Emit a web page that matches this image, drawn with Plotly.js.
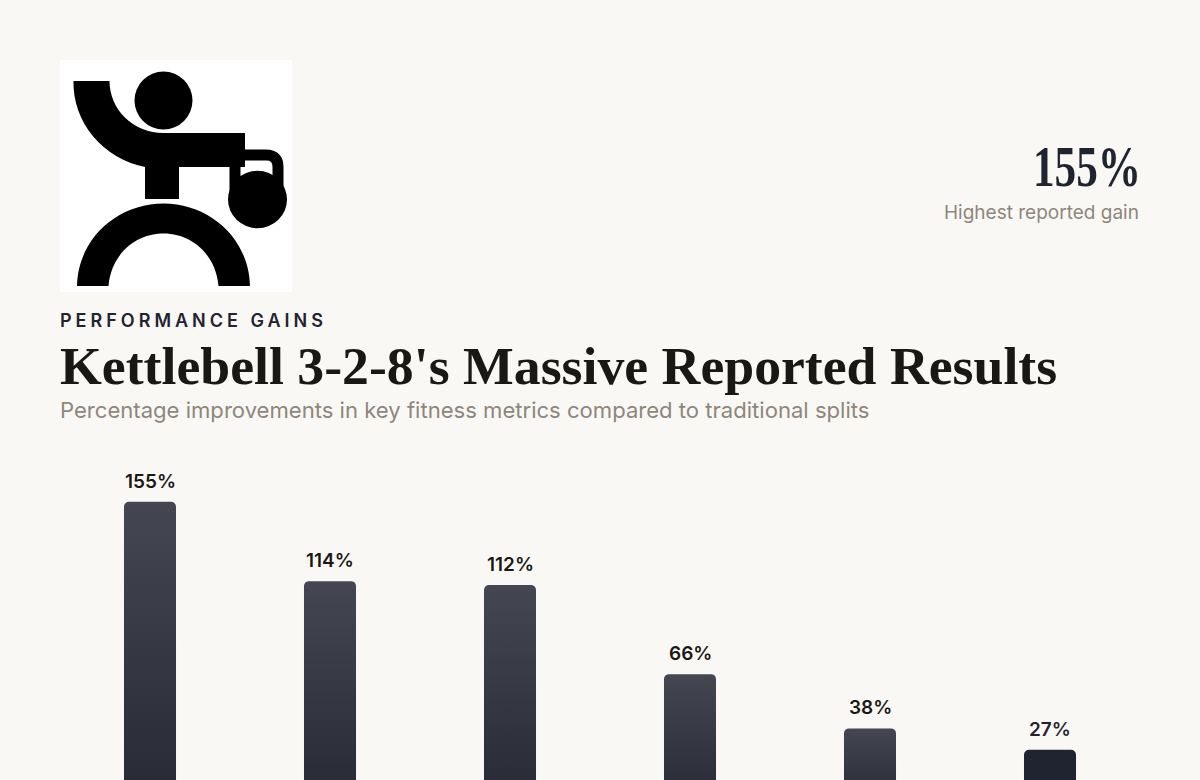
<!DOCTYPE html>
<html><head><meta charset="utf-8">
<script src="https://cdn.plot.ly/plotly-3.0.1.min.js"></script>
<style>html,body{margin:0;padding:0;background:#FAF8F5;overflow:hidden;height:780px}#chart{width:1200px;height:860px}</style>
</head><body><div id="chart"></div>
<script>
// Category names sit below the visible 780px crop in the reference and cannot be read.
const categories = ["Metric 1","Metric 2","Metric 3","Metric 4","Metric 5","Metric 6"];
const gains = [155,114,112,66,38,27];
const labels = ["155%","114%","112%","66%","38%","27%"];
const labelColors = ["#1A1814","#1A1814","#1A1814","#1A1814","#1A1814","#1F2430"];
const gradientTop = ["#444652","#444652","#444652","#444652","#444652","#1F2430"];
const gradientBottom = ["#272A35","#272A35","#272A35","#272A35","#272A35","#1F2430"];
const eyebrow = "PERFORMANCE GAINS";
const titleText = "Kettlebell 3-2-8's Massive Reported Results";
const subtitle = "Percentage improvements in key fitness metrics compared to traditional splits";
const statValue = "155%";
const statLabel = "Highest reported gain";

const W=1200,H=860,L=60,R=60,B=58,T=460;
const px=x=>(x-L)/(W-L-R), py=y=>(H-B-y)/(H-T-B);
const logoSvg = `<svg xmlns="http://www.w3.org/2000/svg" width="232" height="232" viewBox="60 60 232 232"><defs><filter id="b" x="-5%" y="-5%" width="110%" height="110%"><feGaussianBlur stdDeviation="0.5"/></filter></defs><rect x="60" y="60" width="232" height="232" fill="#fff"/><g filter="url(#b)" fill="#000"><circle cx="163.5" cy="100.5" r="29"/><path d="M73.5 81H109.5A53.5 52 0 0 0 163 133H245V167H179V199H145V167A90 86 0 0 1 73.5 81Z"/><path d="M77 286C78 238 118 203.5 163.5 203.5C209 203.5 249 238 250 286H218.5C216 255 192 233.5 163.5 233.5C135 233.5 111 255 108.5 286Z"/><ellipse cx="257.5" cy="199.5" rx="29.5" ry="28.7"/><path d="M245 155H266Q278 155 278 167V200M235 167V195" fill="none" stroke="#000" stroke-width="11"/></g></svg>`;

const trace = {type:"bar",x:categories,y:gains,cliponaxis:false,
  marker:{color:gradientTop,line:{width:0}},hoverinfo:"skip"};
const dataLabels = categories.map((c,i)=>({text:labels[i],x:c,y:gains[i],xref:"x",yref:"y",xanchor:"center",yanchor:"bottom",yshift:8,showarrow:false,borderpad:0,
  font:{family:"Inter",size:19,weight:600,color:labelColors[i]}}));
const layout = {width:W,height:H,margin:{l:L,r:R,t:T,b:B,pad:0},paper_bgcolor:"#FAF8F5",plot_bgcolor:"#FAF8F5",
  bargap:0.711,barcornerradius:5,showlegend:false,
  title:{text:titleText,xref:"paper",x:0,xanchor:"left",yref:"container",y:1-365/H,yanchor:"middle",pad:{l:0,r:0,t:0,b:0},
    font:{family:"Liberation Serif",size:53.75,weight:700,color:"#1A1814"}},
  xaxis:{visible:false,range:[-0.5,5.5],type:"category",fixedrange:true},
  yaxis:{visible:false,range:[0,(H-T-B)/1.9375],fixedrange:true},
  images:[{source:"data:image/svg+xml;base64,"+btoa(logoSvg),xref:"paper",yref:"paper",x:px(60),y:py(60),sizex:px(292)-px(60),sizey:py(60)-py(292),xanchor:"left",yanchor:"top",sizing:"stretch",layer:"above"}],
  annotations:[
   {text:eyebrow,xref:"paper",yref:"paper",x:px(60),y:py(320.5),xanchor:"left",yanchor:"middle",showarrow:false,borderpad:0,font:{family:"Inter",size:18,weight:600,color:"#1F2430"}},
   {text:subtitle,xref:"paper",yref:"paper",x:px(59),y:py(409.5),xanchor:"left",yanchor:"middle",showarrow:false,borderpad:0,font:{family:"Inter",size:22.08,color:"#8F867C"}},
   {text:statValue,xref:"paper",yref:"paper",x:px(1140),y:py(166),xanchor:"right",yanchor:"middle",showarrow:false,borderpad:0,font:{family:"Liberation Serif",size:58,weight:700,color:"#1F2430"}},
   {text:statLabel,xref:"paper",yref:"paper",x:px(1140),y:py(212.5),xanchor:"right",yanchor:"middle",showarrow:false,borderpad:0,font:{family:"Inter",size:19,color:"#8F867C"}},
   ...dataLabels
  ]};
Plotly.newPlot("chart",[trace],layout,{staticPlot:true,displayModeBar:false}).then(gd=>{
  const NS="http://www.w3.org/2000/svg";
  const svg=gd.querySelector("svg.main-svg");
  const defs=document.createElementNS(NS,"defs");
  gradientTop.forEach((c,i)=>{
    const g=document.createElementNS(NS,"linearGradient");
    g.setAttribute("id","barGrad"+i);g.setAttribute("x1","0");g.setAttribute("y1","0");g.setAttribute("x2","0");g.setAttribute("y2","1");
    [[0,c],[1,gradientBottom[i]]].forEach(([o,col])=>{const s=document.createElementNS(NS,"stop");s.setAttribute("offset",o);s.setAttribute("stop-color",col);g.appendChild(s);});
    defs.appendChild(g);
  });
  svg.insertBefore(defs,svg.firstChild);
  gd.querySelectorAll(".bars .point path").forEach((p,i)=>{p.style.fill=`url(#barGrad${i})`;});
  const texts=gd.querySelectorAll(".annotation-text");
  // letter-spaced eyebrow: keep its left edge on the content margin
  const eb=texts[0];
  eb.style.letterSpacing="4px";
  eb.setAttribute("transform",`translate(${60-eb.getBoundingClientRect().left},0)`);
  // display figure: condense to the reference's narrow width, right edge on the margin
  const st=texts[2];
  st.setAttribute("textLength","108");st.setAttribute("lengthAdjust","spacingAndGlyphs");
  st.setAttribute("transform",`translate(${1141-st.getBoundingClientRect().right},0)`);
});
</script></body></html>
